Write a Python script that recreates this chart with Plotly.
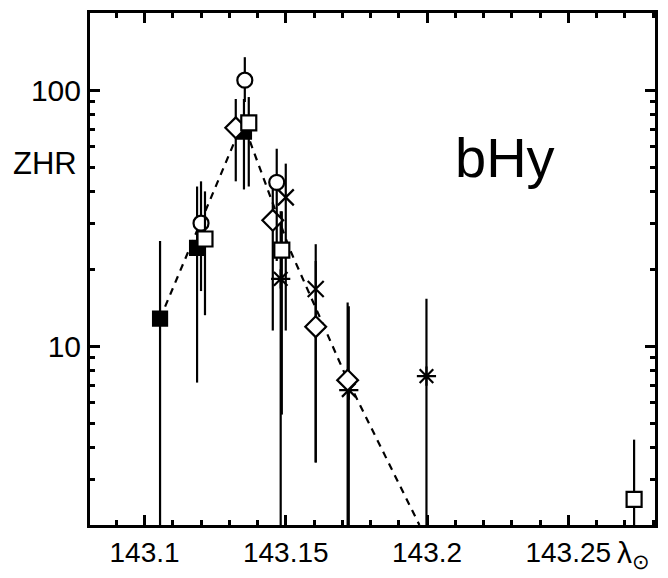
import plotly.graph_objects as go

# ---- data (solar longitude, ZHR, error-bar upper / lower limits) ----
# filled squares
fsq_x  = [143.1055, 143.1186, 143.1352]
fsq_y  = [12.8, 24.2, 68.8]
fsq_hi = [25.7, 42.0, 92.3]
fsq_lo = [1.0, 7.2, 40.9]

# open squares
osq_x  = [143.1214, 143.1369, 143.1486, 143.2733]
osq_y  = [26.2, 74.5, 23.7, 2.52]
osq_hi = [40.2, 93.9, 33.6, 4.31]
osq_lo = [13.2, 42.0, 5.4, 1.0]

# open circles
cir_x  = [143.1200, 143.1355, 143.1468]
cir_y  = [30.2, 109.3, 43.6]
cir_hi = [44.0, 134.4, 59.0]
cir_lo = [16.4, 89.8, 21.5]

# open diamonds
dia_x  = [143.1323, 143.1454, 143.1606, 143.1719]
dia_y  = [71.2, 31.0, 11.9, 7.36]
dia_hi = [92.3, 42.0, 21.5, 14.8]
dia_lo = [44.0, 11.5, 3.51, 1.0]

# crosses
crs_x  = [143.1500, 143.1606]
crs_y  = [38.1, 16.7]
crs_hi = [51.6, 25.0]
crs_lo = [11.5, 3.51]

# asterisks
ast_x  = [143.1482, 143.1723, 143.1998]
ast_y  = [18.3, 6.73, 7.63]
ast_hi = [33.6, 14.3, 15.3]
ast_lo = [1.0, 1.0, 1.0]

# dashed profile line
fit_x = [143.1055, 143.1348, 143.1514, 143.1719, 143.1973]
fit_y = [12.8, 75.0, 23.9, 7.36, 2.0]

x_ticks = [143.1, 143.15, 143.2, 143.25]
x_labels = ["143.1", "143.15", "143.2", "143.25"]
y_ticks = [10, 100]
y_labels = ["10", "100"]
y_minor = [2, 3, 4, 5, 6, 7, 8, 9, 20, 30, 40, 50, 60, 70, 80, 90]

FONT = "Liberation Sans"

fig = go.Figure()

fig.add_trace(go.Scatter(x=fit_x, y=fit_y, mode="lines",
                         line=dict(color="black", width=2.2, dash="7px,6px"),
                         hoverinfo="skip"))


def series(xs, ys, hi, lo, symbol, fill, size=14):
    fig.add_trace(go.Scatter(
        x=xs, y=ys, mode="markers",
        marker=dict(symbol=symbol, size=size, color=fill,
                    line=dict(color="black", width=2.2)),
        error_y=dict(type="data", symmetric=False,
                     array=[h - y for h, y in zip(hi, ys)],
                     arrayminus=[y - l for y, l in zip(ys, lo)],
                     color="black", thickness=2.2, width=0),
    ))


series(ast_x, ast_y, ast_hi, ast_lo, "asterisk-open", "black", 16)
series(crs_x, crs_y, crs_hi, crs_lo, "x-thin-open", "black", 16)
series(fsq_x, fsq_y, fsq_hi, fsq_lo, "square", "black", 14)
series(dia_x, dia_y, dia_hi, dia_lo, "diamond", "white", 16)
series(cir_x, cir_y, cir_hi, cir_lo, "circle", "white", 15)
series(osq_x, osq_y, osq_hi, osq_lo, "square", "white", 15)

fig.add_annotation(x=0.735, y=0.718, xref="paper", yref="paper", text="bHy",
                   showarrow=False, xanchor="center", yanchor="middle",
                   font=dict(family=FONT, size=56, color="black"))
fig.add_annotation(x=-0.079, y=0.707, xref="paper", yref="paper", text="ZHR",
                   showarrow=False, xanchor="center", yanchor="middle",
                   font=dict(family=FONT, size=31, color="black"))
fig.add_annotation(x=0.93, y=-0.058, xref="paper", yref="paper",
                   text="λ<sub>⊙</sub>", showarrow=False, xanchor="left",
                   yanchor="middle", font=dict(family=FONT, size=30, color="black"))

fig.update_xaxes(range=[143.0807, 143.2807], tickvals=x_ticks, ticktext=x_labels,
                 ticks="inside", ticklen=10, tickwidth=2.5, tickcolor="black",
                 minor=dict(dtick=0.01, tick0=143.08, ticks="inside", ticklen=5,
                            tickwidth=2.5, tickcolor="black"),
                 showline=True, linewidth=3, linecolor="black", mirror="ticks",
                 showgrid=False, zeroline=False,
                 tickfont=dict(family=FONT, size=28, color="black"))
fig.update_yaxes(type="log", range=[0.30103, 2.30103], tickvals=y_ticks,
                 ticktext=y_labels, ticks="inside", ticklen=10, tickwidth=2.5,
                 tickcolor="black",
                 minor=dict(tickvals=y_minor, ticks="inside", ticklen=5,
                            tickwidth=2.5, tickcolor="black"),
                 showline=True, linewidth=3, linecolor="black", mirror="ticks",
                 showgrid=False, zeroline=False,
                 tickfont=dict(family=FONT, size=30, color="black"))

fig.update_layout(width=668, height=578, showlegend=False,
                  margin=dict(l=90, r=12, t=10, b=52),
                  plot_bgcolor="white", paper_bgcolor="white")

fig.write_html("out.html")
